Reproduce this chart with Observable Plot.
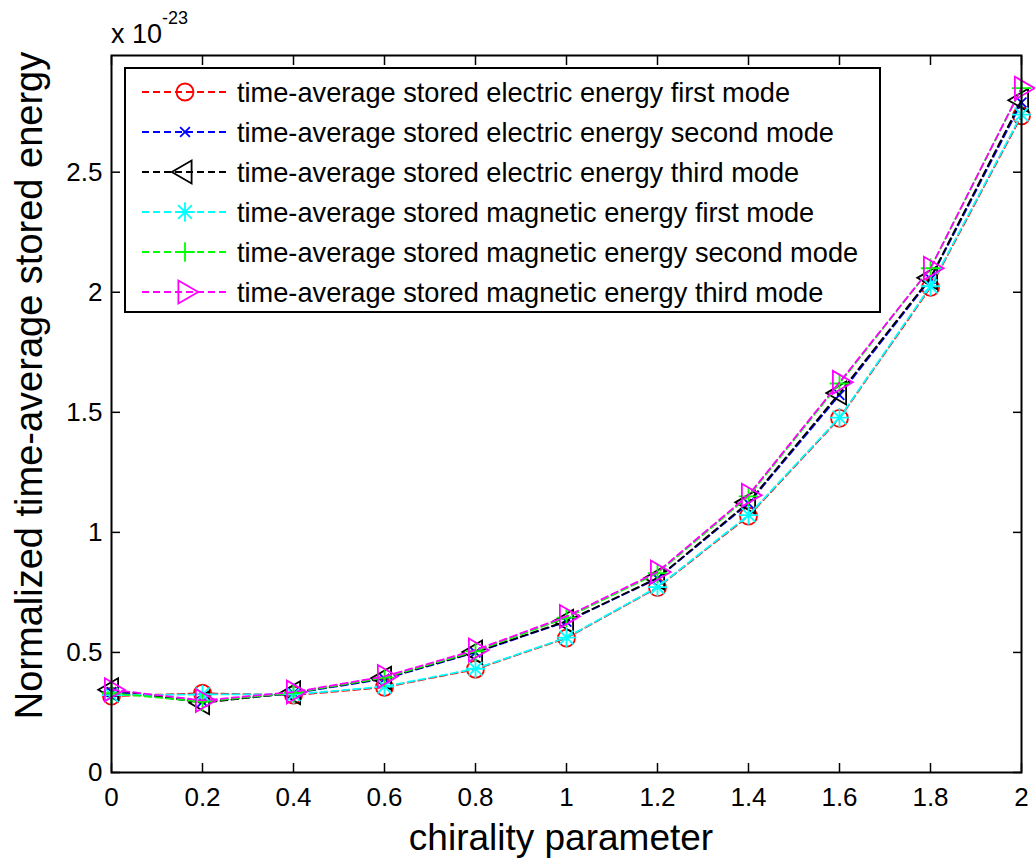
<!DOCTYPE html>
<html><head><meta charset="utf-8">
<script src="https://cdn.jsdelivr.net/npm/d3@7"></script>
<script src="https://cdn.jsdelivr.net/npm/@observablehq/plot@0.6"></script>
<style>
body{margin:0;background:#fff}
#chart{width:1035px;height:859px;position:relative}
svg{font-family:"Liberation Sans",Arial,sans-serif}
</style>
</head><body><div id="chart"></div>
<script>
// ---- data (x 10^-23) ----
const chirality = [0, 0.2, 0.4, 0.6, 0.8, 1.0, 1.2, 1.4, 1.6, 1.8, 2.0];
const electricFirst  = [0.318, 0.330, 0.322, 0.355, 0.430, 0.560, 0.770, 1.068, 1.475, 2.020, 2.735];
const electricSecond = [0.335, 0.295, 0.330, 0.390, 0.500, 0.628, 0.808, 1.120, 1.572, 2.055, 2.790];
const electricThird  = [0.345, 0.290, 0.332, 0.393, 0.502, 0.630, 0.810, 1.125, 1.580, 2.060, 2.800];
const magneticFirst  = [0.322, 0.325, 0.325, 0.358, 0.432, 0.562, 0.772, 1.072, 1.478, 2.025, 2.740];
const magneticSecond = [0.330, 0.295, 0.332, 0.395, 0.505, 0.645, 0.830, 1.150, 1.620, 2.100, 2.850];
const magneticThird  = [0.345, 0.300, 0.335, 0.400, 0.510, 0.650, 0.835, 1.155, 1.625, 2.100, 2.850];
const seriesNames = [
  "time-average stored electric energy first mode",
  "time-average stored electric energy second mode",
  "time-average stored electric energy third mode",
  "time-average stored magnetic energy first mode",
  "time-average stored magnetic energy second mode",
  "time-average stored magnetic energy third mode"
];
const xTicks = [0, 0.2, 0.4, 0.6, 0.8, 1, 1.2, 1.4, 1.6, 1.8, 2];
const yTicks = [0, 0.5, 1, 1.5, 2, 2.5];
const xLabel = "chirality parameter";
const yLabel = "Normalized time-average stored energy";

// ---- styles ----
const styles = [
  {color: "#ff0000", marks: [{symbol: "circle", r: 8.5, rotate: 0}]},
  {color: "#0000ff", marks: [{symbol: "times", r: 4.5, rotate: 0}]},
  {color: "#000000", marks: [{symbol: "triangle", r: 8.5, rotate: -90}]},
  {color: "#00ffff", marks: [{symbol: "plus", r: 6.3, rotate: 0}, {symbol: "times", r: 6.3, rotate: 0}]},
  {color: "#00ff00", marks: [{symbol: "plus", r: 6.3, rotate: 0}]},
  {color: "#ff00ff", marks: [{symbol: "triangle", r: 8.5, rotate: 90}]}
];
const valueArrays = [electricFirst, electricSecond, electricThird, magneticFirst, magneticSecond, magneticThird];
const seriesRows = valueArrays.map((vals, i) => chirality.map((x, j) => ({x, y: vals[j], name: seriesNames[i]})));

const dash = "7,4";
const lw = 1.8;
const marks = [];
seriesRows.forEach((rows, i) => {
  const st = styles[i];
  marks.push(Plot.line(rows, {x: "x", y: "y", stroke: st.color, strokeWidth: lw, strokeDasharray: dash}));
  st.marks.forEach(m => {
    marks.push(Plot.dot(rows, {x: "x", y: "y", symbol: m.symbol, r: m.r, rotate: m.rotate,
      stroke: st.color, fill: "none", strokeWidth: lw}));
  });
});

const chart = Plot.plot({
  width: 1035, height: 859,
  marginLeft: 111, marginRight: 14, marginTop: 55, marginBottom: 87,
  style: {fontFamily: '"Liberation Sans", Arial, sans-serif', background: "#fff"},
  x: {domain: [0, 2]},
  y: {domain: [0, 2.986]},
  marks: [
    Plot.axisX({ticks: xTicks, tickSize: -9, tickPadding: 24, fontSize: 26, label: null, stroke: "#000", strokeWidth: 1.5, tickFormat: d => String(d)}),
    Plot.axisX({anchor: "top", ticks: xTicks, tickSize: -9, label: null, strokeWidth: 1.5, tickFormat: () => ""}),
    Plot.axisY({ticks: yTicks, tickSize: -9, tickPadding: 18, fontSize: 26, label: null, strokeWidth: 1.5, tickFormat: d => String(d)}),
    Plot.axisY({anchor: "right", ticks: yTicks, tickSize: -9, label: null, strokeWidth: 1.5, tickFormat: () => ""}),
    ...marks,
    Plot.frame({stroke: "#000", strokeWidth: 2})
  ]
});
document.getElementById("chart").appendChild(chart);

// ---- annotations: labels, exponent, legend ----
const svg = d3.select(chart);
svg.selectAll("text").attr("fill", "#000");
svg.append("text").attr("x", 561).attr("y", 850).attr("text-anchor", "middle")
  .attr("font-size", 37).attr("fill", "#000").text(xLabel);
svg.append("text").attr("transform", "translate(42,385.5) rotate(-90)").attr("text-anchor", "middle")
  .attr("font-size", 38).attr("fill", "#000").text(yLabel);
const ex = svg.append("text").attr("x", 111).attr("y", 43).attr("text-anchor", "start")
  .attr("font-size", 27).attr("fill", "#000");
ex.append("tspan").text("x 10");
ex.append("tspan").attr("font-size", 18).attr("dy", -19).text("-23");

const symMap = {circle: d3.symbolCircle, times: d3.symbolTimes, triangle: d3.symbolTriangle, plus: d3.symbolPlus};
const lg = svg.append("g");
lg.append("rect").attr("x", 125).attr("y", 68).attr("width", 755).attr("height", 244)
  .attr("fill", "#fff").attr("stroke", "#000").attr("stroke-width", 2);
seriesNames.forEach((name, i) => {
  const yy = 92 + 40 * i;
  const st = styles[i];
  lg.append("line").attr("x1", 142).attr("x2", 227).attr("y1", yy).attr("y2", yy)
    .attr("stroke", st.color).attr("stroke-width", lw).attr("stroke-dasharray", dash);
  st.marks.forEach(m => {
    lg.append("path").attr("d", d3.symbol(symMap[m.symbol], Math.PI * m.r * m.r)())
      .attr("transform", `translate(185,${yy}) rotate(${m.rotate})`)
      .attr("fill", "none").attr("stroke", st.color).attr("stroke-width", lw);
  });
  lg.append("text").attr("x", 237).attr("y", yy).attr("dy", "0.36em").attr("text-anchor", "start")
    .attr("font-size", 27.2).attr("fill", "#000").text(name);
});
</script>
</body></html>
